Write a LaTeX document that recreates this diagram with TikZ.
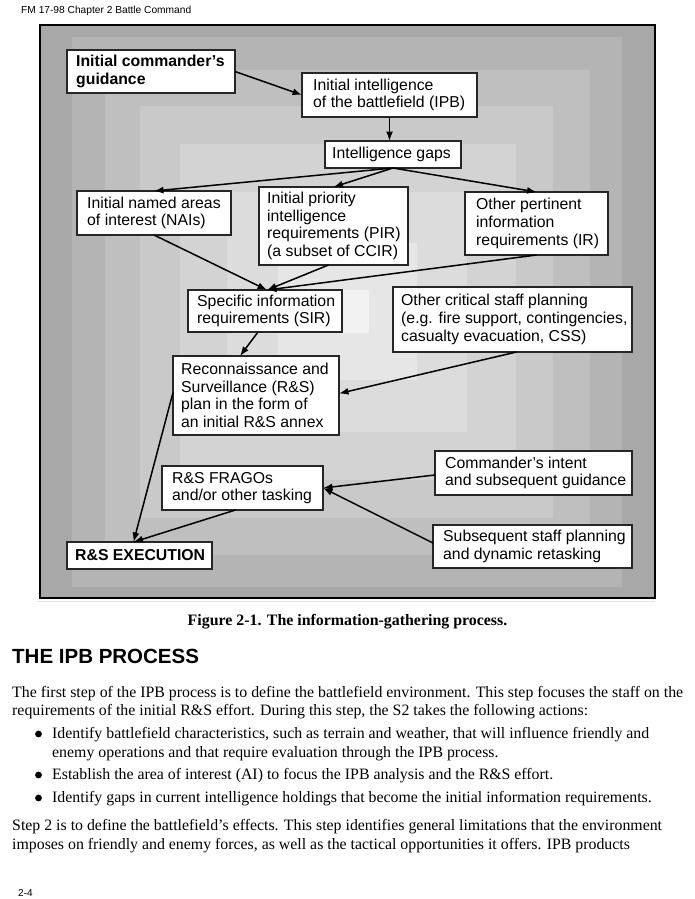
\documentclass[tikz,border=0pt]{standalone}
\usepackage{fontspec}
\setmainfont{Liberation Serif}
\setsansfont{Liberation Sans}
\usetikzlibrary{arrows.meta}
\definecolor{g0}{HTML}{A8A8A8}
\definecolor{g1}{HTML}{B4B4B4}
\definecolor{g2}{HTML}{BFBFBF}
\definecolor{g3}{HTML}{C9C9C9}
\definecolor{g4}{HTML}{D3D3D3}
\definecolor{g5}{HTML}{DCDCDC}
\definecolor{g6}{HTML}{E6E6E6}
\definecolor{g7}{HTML}{F2F2F2}
\begin{document}
\begin{tikzpicture}[x=1pt,y=-1pt,
  boxshape/.style={draw=black!85, line width=1.3pt, fill=white, anchor=north west, inner sep=0pt, outer sep=0pt},
  boxtext/.style={anchor=west, align=left, inner sep=0pt, font=\sffamily\fontsize{15.8}{17.6}\selectfont},
  boldtext/.style={anchor=west, align=left, inner sep=0pt, font=\sffamily\bfseries\fontsize{15.8}{17.6}\selectfont},
  flow/.style={line width=1.5pt, -{Latex[length=9.5pt,width=7pt]}},
  body/.style={anchor=base west, inner sep=0pt, font=\rmfamily\fontsize{15.85}{19}\selectfont},
  dot/.style={fill=black}
]
\fill[white] (0,0) rectangle (695,899);
\useasboundingbox (0,0) rectangle (695,899);

% header
\node[anchor=base west, inner sep=0pt, font=\sffamily\fontsize{10.2}{12}\selectfont] (hdr) at (21,13.5) {FM 17-98 Chapter 2 Battle Command};

% background bands
\fill[g0] (40,25) rectangle (655,598);
\fill[g1] (72,37) rectangle (622,587);
\fill[g2] (105,70) rectangle (590,555);
\fill[g3] (140,106) rectangle (553,518);
\fill[g4] (180,144) rectangle (516,480);
\fill[g5] (227,192) rectangle (467,432);
\fill[g6] (278,243) rectangle (417,380);
\fill[g7] (325,290) rectangle (369,333);
\draw[black, line width=2pt] (40,25) rectangle (655,598);
\draw[black!10, line width=1pt] (37,601) -- (655,601);

% boxes
\node[boxshape, minimum width=168pt, minimum height=43pt] (cg) at (67,50) {};
\node[boldtext] (cgt) at ([xshift=9pt]cg.west) {Initial commander’s\\guidance};

\node[boxshape, minimum width=175pt, minimum height=44pt] (ipb) at (302,73) {};
\node[boxtext] (ipbt) at ([xshift=11pt]ipb.west) {Initial intelligence\\of the battlefield (IPB)};

\node[boxshape, minimum width=136pt, minimum height=27pt] (gaps) at (325,141) {};
\node[boxtext] (gapst) at ([xshift=7pt]gaps.west) {Intelligence gaps};

\node[boxshape, minimum width=154pt, minimum height=44pt] (nai) at (77,191) {};
\node[boxtext] (nait) at ([xshift=10pt]nai.west) {Initial named areas\\of interest (NAIs)};

\node[boxshape, minimum width=149pt, minimum height=78pt] (pir) at (259,187) {};
\node[boxtext] (pirt) at ([xshift=8pt]pir.west) {Initial priority\\intelligence\\requirements (PIR)\\(a subset of CCIR)};

\node[boxshape, minimum width=143pt, minimum height=63pt] (ir) at (465,192) {};
\node[boxtext] (irt) at ([xshift=11pt]ir.west) {Other pertinent\\information\\requirements (IR)};

\node[boxshape, minimum width=154pt, minimum height=42pt] (sir) at (188,290) {};
\node[boxtext] (sirt) at ([xshift=9pt]sir.west) {Specific information\\requirements (SIR)};

\node[boxshape, minimum width=239pt, minimum height=65pt] (ocs) at (393,287) {};
\node[boxtext] (ocst) at ([xshift=8pt]ocs.west) {Other critical staff planning\\(e.g. fire support, contingencies,\\casualty evacuation, CSS)};

\node[boxshape, minimum width=166pt, minimum height=79pt] (rsp) at (173,356) {};
\node[boxtext] (rspt) at ([xshift=8pt]rsp.west) {Reconnaissance and\\Surveillance (R\&S)\\plan in the form of\\an initial R\&S annex};

\node[boxshape, minimum width=161pt, minimum height=44pt] (frag) at (162,466) {};
\node[boxtext] (fragt) at ([xshift=10pt]frag.west) {R\&S FRAGOs\\and/or other tasking};

\node[boxshape, minimum width=197pt, minimum height=44pt] (ci) at (435,451) {};
\node[boxtext] (cit) at ([xshift=10pt]ci.west) {Commander’s intent\\and subsequent guidance};

\node[boxshape, minimum width=199pt, minimum height=43pt] (sub) at (433,525) {};
\node[boxtext] (subt) at ([xshift=10pt]sub.west) {Subsequent staff planning\\and dynamic retasking};

\node[boxshape, minimum width=145pt, minimum height=27pt] (exe) at (67,542) {};
\node[boldtext] (exet) at ([xshift=8pt]exe.west) {R\&S EXECUTION};

% connectors
\coordinate (sirin) at ([xshift=2pt]sir.north);
\coordinate (exein) at ([xshift=-6pt]exe.north);
\draw[flow] (cg.east) -- (ipb.west);
\draw[flow] (ipb.south) -- (ipb.south |- gaps.north);
\draw[flow] (gaps.south) -- (nai.north);
\draw[flow] (gaps.south) -- (pir.north);
\draw[flow] (gaps.south) -- (ir.north);
\draw[flow] (nai.south) -- (sirin);
\draw[flow] ([xshift=-5pt]pir.south) -- (sirin);
\draw[flow] (ir.south) -- (sirin);
\draw[flow] ([xshift=-7pt]sir.south) -- ([xshift=-16pt]rsp.north);
\draw[flow] ([xshift=4pt]ocs.south) -- ([yshift=2pt]rsp.east);
\draw[flow] ([yshift=3pt]rsp.west) -- (exein);
\draw[flow] ([xshift=-7pt]frag.south) -- (exein);
\draw[flow] ([yshift=-2pt]ci.west) -- (frag.east);
\draw[flow] ([yshift=3.5pt]sub.west) -- (frag.east);

% caption and text
\node[anchor=base, inner sep=0pt, font=\rmfamily\bfseries\fontsize{15.9}{18}\selectfont] (cap) at (347.5,625) {Figure 2-1. The information-gathering process.};
\node[anchor=base west, inner sep=0pt, font=\sffamily\bfseries\fontsize{20.5}{24}\selectfont] (head) at (12,663) {THE IPB PROCESS};

\node[body] (l1) at (12,697) {The first step of the IPB process is to define the battlefield environment. This step focuses the staff on the};
\node[body] (l2) at (12,715.5) {requirements of the initial R\&S effort. During this step, the S2 takes the following actions:};
\fill[dot] (38.5,734) circle (3.4pt);
\node[body] (b1) at (52,738) {Identify battlefield characteristics, such as terrain and weather, that will influence friendly and};
\node[body] (b1b) at (52,757) {enemy operations and that require evaluation through the IPB process.};
\fill[dot] (38.5,775) circle (3.4pt);
\node[body] (b2) at (52,779) {Establish the area of interest (AI) to focus the IPB analysis and the R\&S effort.};
\fill[dot] (38.5,798) circle (3.4pt);
\node[body] (b3) at (52,802) {Identify gaps in current intelligence holdings that become the initial information requirements.};
\node[body] (s1) at (12,830.5) {Step 2 is to define the battlefield’s effects. This step identifies general limitations that the environment};
\node[body] (s2) at (12,849) {imposes on friendly and enemy forces, as well as the tactical opportunities it offers. IPB products};

\node[anchor=base west, inner sep=0pt, font=\sffamily\fontsize{10}{12}\selectfont] (pg) at (18,896) {2-4};
\end{tikzpicture}
\end{document}
